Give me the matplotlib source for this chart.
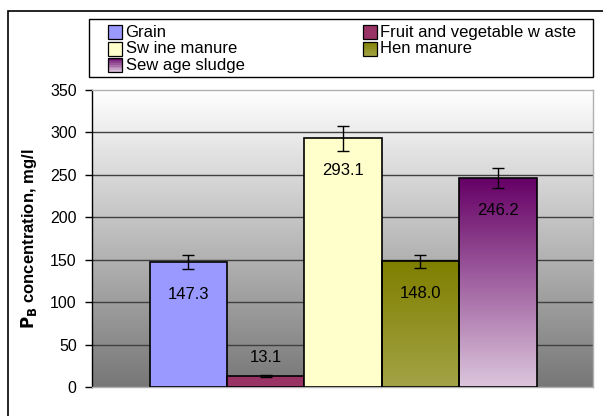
import numpy as np
import matplotlib
matplotlib.use("Agg")
import matplotlib.pyplot as plt
from matplotlib.colors import LinearSegmentedColormap, to_rgb
from matplotlib.patches import Rectangle
from matplotlib.legend_handler import HandlerBase

plt.rcParams['font.family'] = ['Liberation Sans', 'DejaVu Sans']

# data
series = ["Grain", "Fruit and vegetable w aste", "Sw ine manure", "Hen manure", "Sew age sludge"]
values = [147.3, 13.1, 293.1, 148.0, 246.2]
errors = [8, 1, 15, 8, 12]
labels = ["147.3", "13.1", "293.1", "148.0", "246.2"]
# (top colour, bottom colour) - same colour means flat fill
colors = [("#9999ff", "#9999ff"), ("#993366", "#993366"), ("#ffffcc", "#ffffcc"),
          ("#7f7f00", "#a3a346"), ("#660066", "#dcc6dc")]
yticks = [0, 50, 100, 150, 200, 250, 300, 350]

fig = plt.figure(figsize=(6.03, 4.16), dpi=100)
W, H = 603, 416
# outer frame (right and bottom edges run off the picture)
fig.patches.append(Rectangle((7.5 / W, -0.1), 1, 1.1 - 10.5 / H, transform=fig.transFigure,
                             fill=False, ec="black", lw=1.2))

ax = fig.add_axes([92 / W, 1 - 387 / H, 501 / W, 297 / H])
ax.set_xlim(0, 1)
ax.set_ylim(0, 350)

# background gradient
grad = np.linspace(0, 1, 256).reshape(-1, 1)
bg = LinearSegmentedColormap.from_list("bg", ["#777777", "#ffffff"])
ax.imshow(grad, cmap=bg, origin="lower", aspect="auto", extent=(0, 1, 0, 350), zorder=0)

for y in yticks[1:-1]:
    ax.axhline(y, color="#404040", lw=1.0, zorder=1)

bw = 77.4 / 501
x0 = 57.5 / 501
for i, (name, v, e, lab, (c1, c2)) in enumerate(zip(series, values, errors, labels, colors)):
    x = x0 + i * bw
    bar = ax.bar(x, v, width=bw, align="edge", color=c1 if c1 == c2 else "none",
                 edgecolor="black", lw=1.2, zorder=3)[0]
    if c1 != c2:
        cm = LinearSegmentedColormap.from_list("g%d" % i, [c2, c1])
        im = ax.imshow(grad, cmap=cm, origin="lower", aspect="auto",
                       extent=(x, x + bw, 0, v), zorder=2)
        im.set_clip_path(bar)
    ax.errorbar(x + bw / 2, v, yerr=e, fmt="none", ecolor="black", elinewidth=1.0,
                capsize=4.3, capthick=1.0, zorder=4)
    off = 18 if v < 50 else -32
    ax.annotate(lab, (x + bw / 2, v), xytext=(0, off), textcoords="offset pixels",
                ha="center", va="center", fontsize=12, zorder=5)


class GradHandler(HandlerBase):
    def create_artists(self, legend, orig, xd, yd, w, h, fs, trans):
        s = 10
        c1, c2 = orig.top, orig.bottom
        a1, a2 = np.array(to_rgb(c1)), np.array(to_rgb(c2))
        y0 = yd + (h - s) / 2
        arts = []
        n = 8
        for k in range(n):
            t = (k + 0.5) / n
            col = a2 * (1 - t) + a1 * t
            arts.append(Rectangle((xd, y0 + s * k / n), s, s / n, fc=col, ec="none",
                                  transform=trans))
        arts.append(Rectangle((xd, y0), s, s, fill=False, ec="black", lw=0.9, transform=trans))
        return arts


ax.set_yticks(yticks)
ax.tick_params(axis="y", direction="out", length=5, width=1, labelsize=11.5, pad=6)
ax.set_xticks([])
ax.spines["left"].set_color("black")
ax.spines["left"].set_linewidth(1.0)
for s in ["top", "right", "bottom"]:
    ax.spines[s].set_color("#b0b0b0")
    ax.spines[s].set_linewidth(1.0)
ax.set_ylabel(r"$\mathbf{P_B}$ concentration, mg/l", fontsize=12, fontweight="bold", labelpad=8)

# legend frame
fig.patches.append(Rectangle((89 / W, 1 - 77 / H), 504 / W, 58 / H, transform=fig.transFigure,
                             fill=False, ec="black", lw=1.0))
leg_h = []
for c1, c2 in colors:
    r = Rectangle((0, 0), 1, 1)
    r.top, r.bottom = c1, c2
    leg_h.append(r)
order = [0, 2, 4, 1, 3]
leg = fig.legend([leg_h[i] for i in order], [series[i] for i in order], ncol=2,
                 loc="upper left", bbox_to_anchor=(108 / W, 1 - 25 / H), fontsize=12,
                 frameon=False, handler_map={Rectangle: GradHandler()},
                 handlelength=0.7, handleheight=0.6, handletextpad=0.35, columnspacing=7.1,
                 labelspacing=0.08, borderpad=0, borderaxespad=0)

fig.savefig("out.png", dpi=100)
